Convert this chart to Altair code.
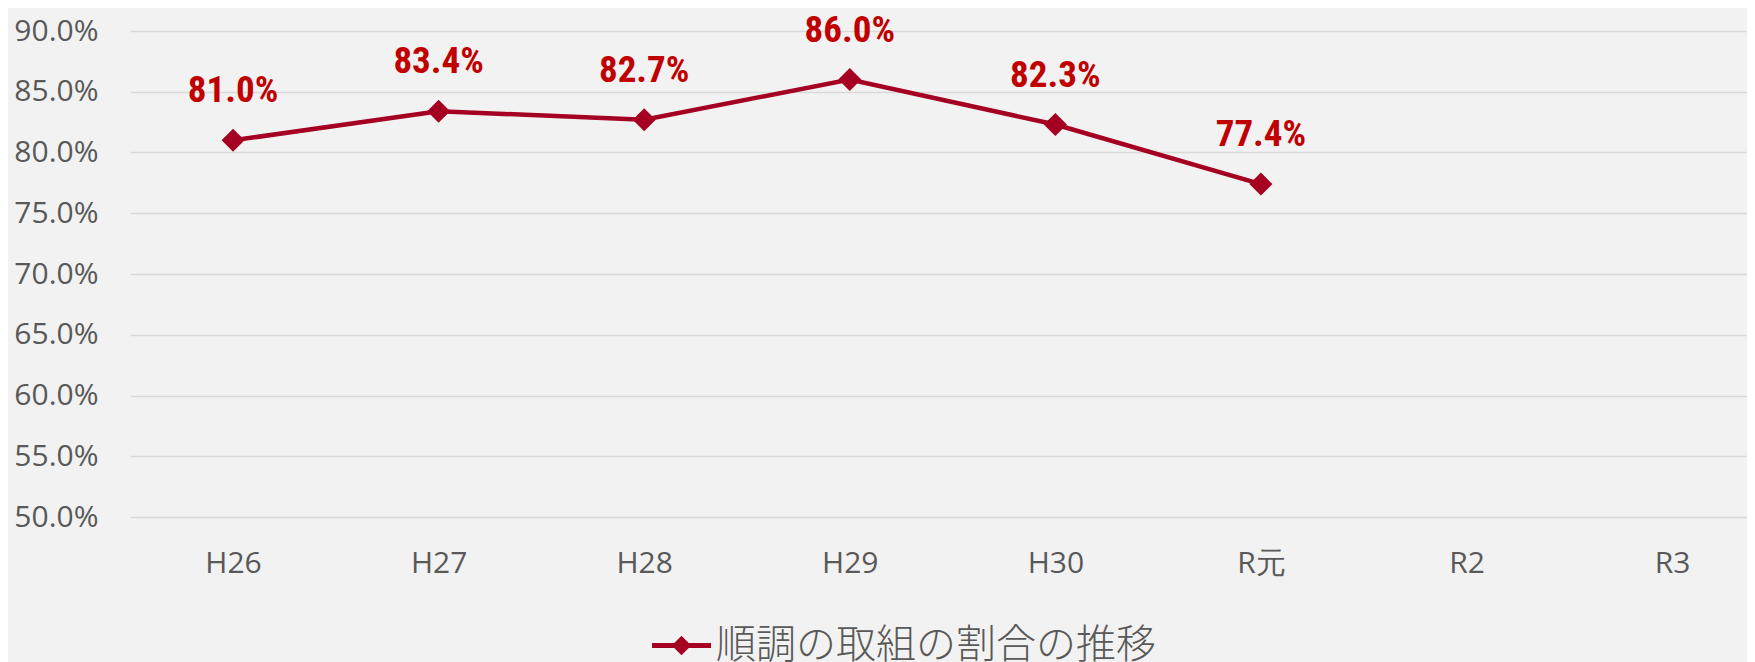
import altair as alt
import pandas as pd

categories = ["H26", "H27", "H28", "H29", "H30", "R元", "R2", "R3"]
data_categories = ["H26", "H27", "H28", "H29", "H30", "R元"]
values = [0.810, 0.834, 0.827, 0.860, 0.823, 0.774]
series_name = "順調の取組の割合の推移"
y_ticks = [0.50, 0.55, 0.60, 0.65, 0.70, 0.75, 0.80, 0.85, 0.90]

df = pd.DataFrame({"cat": data_categories, "v": values, "series": series_name})

LINE = "#A50021"
LABEL = "#C00000"
AXIS_FONT = "Open Sans"

x_enc = alt.X(
    "cat:N",
    sort=categories,
    scale=alt.Scale(type="point", domain=categories, padding=0.4329, align=0.579),
    axis=alt.Axis(
        title=None, domain=False, ticks=False, grid=False,
        labelFont=AXIS_FONT, labelFontSize=30, labelColor="#595959",
        labelPadding=31, labelAngle=0,
    ),
)
y_enc = alt.Y(
    "v:Q",
    scale=alt.Scale(domain=[0.5, 0.9], nice=False, zero=False),
    axis=alt.Axis(
        title=None, domain=False, ticks=False, grid=True,
        gridColor="#D9D9D9", gridWidth=1.6, values=y_ticks, format=".1%",
        labelFont=AXIS_FONT, labelFontSize=30, labelColor="#595959",
        labelPadding=32,
    ),
)

base = alt.Chart(df)

line = base.mark_line(color=LINE, strokeWidth=4.5).encode(x=x_enc, y=y_enc)

legend_path = ("M-1,-0.085L-0.245,-0.085L0,-0.33L0.245,-0.085L1,-0.085"
               "L1,0.085L0.245,0.085L0,0.33L-0.245,0.085L-1,0.085Z")

points = base.mark_point(shape="diamond", filled=True, size=530, opacity=1).encode(
    x=x_enc,
    y=y_enc,
    color=alt.Color(
        "series:N",
        scale=alt.Scale(range=[LINE]),
        legend=alt.Legend(
            title=None, orient="none", legendX=522, legendY=585,
            symbolType=legend_path, symbolSize=3481, symbolStrokeWidth=0,
            symbolOpacity=1, labelFont="Noto Sans CJK JP", labelFontSize=40,
            labelFontWeight=300, labelColor="#595959", labelOffset=5,
            labelLimit=1000, padding=0,
        ),
    ),
)

labels = base.mark_text(
    font="Roboto Condensed, Roboto, sans-serif", fontSize=37, fontWeight="bold",
    color=LABEL, dy=-38, baseline="alphabetic", align="center",
).encode(x=x_enc, y=y_enc, text=alt.Text("v:Q", format=".1%"))

chart = (
    alt.layer(line, points, labels)
    .properties(
        width=1617, height=486,
        autosize=alt.AutoSizeParams(type="none"),
        padding={"left": 122, "top": 23, "right": 0, "bottom": 150},
        background="#F2F2F2",
    )
    .configure_view(strokeWidth=0)
)

chart.save("out.html", embed_options={"renderer": "svg", "actions": False})
